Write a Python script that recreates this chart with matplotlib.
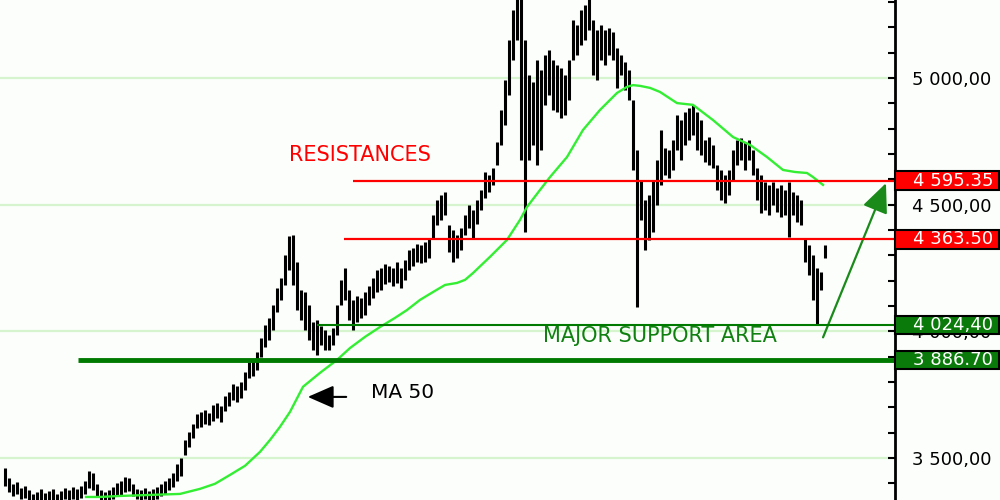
import matplotlib
matplotlib.use("Agg")
import matplotlib.pyplot as plt
import matplotlib.transforms as mtransforms
from matplotlib.patches import Rectangle
from matplotlib.ticker import MultipleLocator, FuncFormatter

# daily bars (high / low)
highs = [3461, 3421, 3398, 3405, 3382, 3390, 3374, 3358, 3366, 3378,
         3362, 3370, 3378, 3358, 3370, 3382, 3374, 3386, 3378, 3390,
         3409, 3449, 3441, 3398, 3374, 3366, 3374, 3386, 3402, 3409,
         3425, 3421, 3398, 3378, 3374, 3382, 3370, 3378, 3386, 3398,
         3409, 3421, 3441, 3477, 3500, 3571, 3603, 3634, 3674, 3682,
         3690, 3678, 3709, 3717, 3705, 3745, 3761, 3792, 3784, 3800,
         3840, 3879, 3887, 3919, 3974, 4025, 4053, 4104, 4171, 4211,
         4301, 4376, 4380, 4274, 4163, 4155, 4104, 4037, 4045, 4021,
         4005, 3986, 4013, 4104, 4203, 4250, 4163, 4124, 4140, 4132,
         4155, 4179, 4211, 4242, 4250, 4266, 4258, 4250, 4274, 4250,
         4282, 4321, 4329, 4345, 4341, 4353, 4369, 4459, 4519, 4538,
         4550, 4420, 4400, 4380, 4408, 4459, 4499, 4479, 4519, 4558,
         4629, 4617, 4645, 4748, 4874, 4992, 5150, 5268, 5330, 5330,
         5150, 5012, 4984, 5071, 5032, 5091, 5111, 5071, 5051, 5040,
         5012, 5071, 5229, 5209, 5268, 5288, 5330, 5229, 5190, 5209,
         5190, 5198, 5182, 5119, 5091, 5063, 5032, 4913, 4716, 4598,
         4519, 4538, 4598, 4676, 4795, 4724, 4716, 4755, 4854, 4834,
         4866, 4882, 4894, 4866, 4834, 4755, 4767, 4736, 4657, 4637,
         4617, 4637, 4716, 4755, 4763, 4748, 4755, 4716, 4645, 4617,
         4590, 4578, 4590, 4566, 4578, 4558, 4590, 4550, 4538, 4519,
         4369, 4341, 4302, 4250, 4234, 4341]
lows = [3390, 3366, 3350, 3358, 3338, 3342, 3334, 3327, 3330, 3334,
        3327, 3330, 3334, 3327, 3330, 3338, 3334, 3338, 3334, 3342,
        3358, 3382, 3374, 3346, 3334, 3327, 3334, 3338, 3350, 3354,
        3366, 3370, 3350, 3338, 3330, 3338, 3330, 3334, 3338, 3350,
        3358, 3374, 3386, 3409, 3429, 3512, 3544, 3579, 3619, 3623,
        3634, 3631, 3646, 3658, 3642, 3686, 3705, 3729, 3721, 3737,
        3769, 3816, 3824, 3848, 3899, 3938, 3966, 4005, 4076, 4124,
        4183, 4242, 4183, 4084, 4045, 4005, 3966, 3926, 3907, 3946,
        3926, 3926, 3946, 3986, 4104, 4124, 4045, 4005, 4037, 4053,
        4065, 4104, 4132, 4155, 4163, 4187, 4195, 4179, 4191, 4171,
        4203, 4242, 4258, 4274, 4270, 4274, 4290, 4369, 4420, 4440,
        4459, 4313, 4274, 4290, 4321, 4380, 4408, 4369, 4424, 4479,
        4527, 4550, 4578, 4657, 4736, 4815, 4933, 5071, 5150, 4676,
        4392, 4676, 4736, 4657, 4716, 4894, 4933, 4874, 4866, 4842,
        4854, 4913, 5071, 5091, 5130, 5150, 5190, 5012, 4992, 5071,
        5051, 5091, 5071, 4961, 5012, 4953, 4913, 4637, 4096, 4440,
        4321, 4361, 4392, 4499, 4578, 4617, 4605, 4637, 4716, 4676,
        4736, 4755, 4775, 4716, 4696, 4669, 4657, 4645, 4558, 4519,
        4507, 4538, 4598, 4657, 4676, 4637, 4676, 4617, 4519, 4467,
        4479, 4459, 4499, 4471, 4451, 4459, 4372, 4459, 4432, 4420,
        4274, 4223, 4124, 4029, 4163, 4290]

# 50-day moving average (bar position, value)
ma_bar = [20.25, 23.75, 28.75, 36.25, 43.75, 48.75, 52.5, 56.25, 60, 63.75,
          66.25, 68.75, 71.25, 74.5, 78.75, 83, 86.25, 90, 93.75, 97.5,
          100.5, 103.75, 107, 110, 113, 115, 117, 121.25, 125.5, 128.75,
          130.5, 133.75, 136.25, 140.5, 144.5, 148.75, 153, 155.5, 157,
          158.75, 161.25, 163.75, 168, 172, 177, 182, 186.25, 190.5, 194.5,
          197.5, 200.5, 202, 204.5]
ma_val = [3346, 3346, 3350, 3354, 3358, 3378, 3398, 3433, 3469, 3524,
          3571, 3623, 3682, 3781, 3836, 3887, 3934, 3978, 4017, 4053,
          4084, 4124, 4155, 4183, 4191, 4203, 4230, 4294, 4361, 4440,
          4491, 4558, 4609, 4688, 4795, 4874, 4941, 4965, 4972,
          4969, 4961, 4945, 4901, 4894, 4834, 4767, 4736, 4688, 4637,
          4629, 4625, 4609, 4578]

resist_levels = [4595.35, 4363.50]
resist_start = [87, 84.75]
support_levels = [4024.40, 3886.70]
support_start = [78, 18.25]
support_widths = [1.5, 3.5]
level_labels = ["4 595.35", "4 363.50", "4 024,40", "3 886.70"]

bg = "#FBFEFB"
fig = plt.figure(figsize=(10, 5), dpi=100, facecolor=bg)
ax = fig.add_axes([0, 0, 0.895, 1], facecolor=bg)
ax.set_xlim(-1.25, 222.5)
ax.set_ylim(3334, 5308)

for v in [3500, 4000, 4500, 5000]:
    ax.axhline(v, color="#D6F5CF", lw=1.6, zorder=1)

ax.vlines(range(len(highs)), lows, highs, color="black", lw=2.2, zorder=3)
ax.plot(ma_bar, ma_val, color="#33EE33", lw=1.7, zorder=4)

for lvl, x0 in zip(resist_levels, resist_start):
    ax.hlines(lvl, x0, 222.5, color="#FF0000", lw=1.6, zorder=5)
for lvl, x0, w in zip(support_levels, support_start, support_widths):
    ax.hlines(lvl, x0, 222.5, color="#007A00", lw=w, zorder=5)

ax.text(71, 4696, "RESISTANCES", color="#FF0000", fontsize=15,
        va="center", ha="left")
ax.text(134.5, 3982, "MAJOR SUPPORT AREA", color="#108010", fontsize=15,
        va="center", ha="left")
ax.text(91.5, 3757, "MA 50", color="black", fontsize=14.5,
        va="center", ha="left")
ax.annotate("", xy=(75, 3741), xytext=(86, 3741),
            arrowprops=dict(arrowstyle="-|>,head_length=1.6,head_width=0.7",
                            color="black", lw=1.5))
ax.annotate("", xy=(220.5, 4595), xytext=(204.25, 3966),
            arrowprops=dict(arrowstyle="-|>,head_length=1.8,head_width=0.8",
                            color="#1A8A1A", lw=1.6))

# right axis
for s in ["left", "top", "bottom"]:
    ax.spines[s].set_visible(False)
ax.spines["right"].set_linewidth(2)
ax.xaxis.set_visible(False)
ax.yaxis.tick_right()
ax.yaxis.set_major_locator(MultipleLocator(500))
ax.yaxis.set_minor_locator(MultipleLocator(100))
ax.yaxis.set_major_formatter(
    FuncFormatter(lambda v, p: f"{int(v):,}".replace(",", " ") + ",00"))
ax.tick_params(axis="y", which="both", direction="in", length=5, width=1.5,
               labelsize=13, pad=12)

# level boxes on the axis
trans = mtransforms.blended_transform_factory(ax.transAxes, ax.transData)
box_colors = ["#FF0000", "#FF0000", "#0A7A0A", "#0A7A0A"]
levels = resist_levels + support_levels
for lvl, lab, c in zip(levels, level_labels, box_colors):
    ax.add_patch(Rectangle((1.0, lvl - 37), 104 / 895, 74, transform=trans,
                           facecolor=c, edgecolor="black", lw=1.5,
                           clip_on=False, zorder=10))
    ax.text(1.0 + 58 / 895, lvl, lab, transform=trans, color="white",
            fontsize=13, ha="center", va="center", zorder=11, clip_on=False)

fig.savefig("out.png", dpi=100, facecolor=bg)
